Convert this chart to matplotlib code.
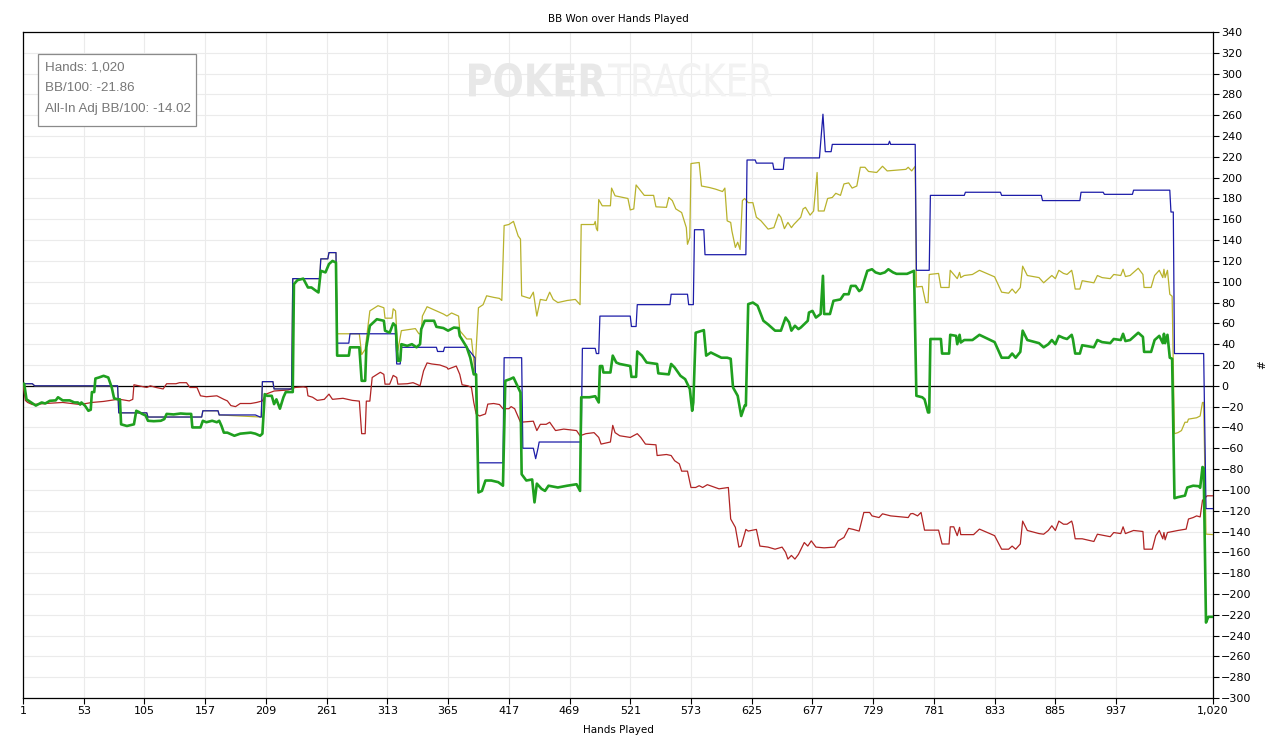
import matplotlib
matplotlib.use("Agg")
import matplotlib.pyplot as plt
from matplotlib.patches import Rectangle, PathPatch
from matplotlib.textpath import TextPath
from matplotlib.font_manager import FontProperties
from matplotlib.transforms import Affine2D, IdentityTransform

# ---------------- data (hand, value) ----------------
net_won = [(1,2),(9,2),(11,0),(82,0),(83,-26),(107,-26),(108,-30),(154,-30),(155,-24),(168,-24),(169,-28),(200,-28),(204,-30),(205,-30),(206,4),(215,4),(216,-3),(231,-3),(232,103),(255,103),(256,122),(262,122),(263,128),(269,128),(270,41),(280,41),(281,50),(320,50),(321,21),(324,21),(325,37),(355,37),(356,33),(361,33),(362,37),(381,37),(388,27),(391,-74),(412,-74),(413,27),(428,27),(429,-60),(438,-60),(440,-70),(442,-60),(443,-54),(479,-54),(480,36),(491,36),(492,31),(494,31),(495,67),(521,67),(522,57),(526,57),(527,78),(555,78),(556,88),(570,88),(571,78),(575,78),(576,150),(584,150),(585,126),(620,126),(621,217),(628,217),(629,214),(643,214),(644,208),(652,208),(653,219),(683,219),(686,261),(688,225),(693,225),(694,232),(742,232),(743,235),(744,232),(765,232),(766,111),(777,111),(778,183),(807,183),(808,186),(838,186),(839,183),(873,183),(874,178),(906,178),(907,186),(926,186),(927,184),(951,184),(952,188),(983,188),(984,167),(986,167),(987,31),(1012,31),(1014,-118),(1020,-118)]

showdown = [(1,2),(9,2),(11,0),(82,0),(83,-26),(107,-26),(108,-30),(154,-30),(155,-24),(168,-24),(169,-28),(205,-30),(206,4),(215,4),(216,-3),(231,-3),(232,103),(255,103),(256,122),(262,122),(263,128),(269,128),(270,50),(289,50),(291,30),(294,35),(298,72),(305,77),(310,75),(311,65),(317,65),(318,74),(320,72),(322,34),(325,53),(337,55),(340,50),(342,50),(343,67),(347,76),(351,74),(355,72),(361,69),(364,67),(368,70),(374,67),(375,53),(381,45),(385,45),(388,14),(391,75),(395,78),(398,86.5),(404,85),(409,84),(411,82),(413,154),(417,155),(421,158),(425,144),(427,141),(428,86.5),(435,84),(438,90),(441,67),(444,83),(449,82),(452,90),(455,83),(459,80),(467,82),(474,83),(478,78),(479,155),(490,155),(491,158),(492,151),(493,149),(494,179),(497,173),(504,173),(505,190),(508,182.6),(519,180),(521,169),(524,170),(526,193),(533,183),(541,183),(543,172),(552,171.5),(554,181),(557,178),(560,170),(565,166.5),(569,152),(570,136),(572,142.5),(573,213.6),(580,214.6),(582,192),(589,190.5),(594,189),(600,186.7),(602,190),(604,158.5),(607,157),(608,149),(611,133),(613,138),(615,131),(617,178),(619,180),(622,176),(626,176),(629,162),(633,158.5),(639,150.6),(644,152),(648,165),(650,162),(653,151),(656,157),(659,152),(661,155),(667,162),(669,170),(671,171.5),(675,164),(678,168),(681,205),(682,168),(687,168),(690,180),(694,181),(697,185),(701,183),(704,194),(708,195),(711,190),(715,192),(718,210),(722,210),(725,206),(732,205),(737,211),(741,206.5),(757,208),(759,210),(762,206.5),(765,211),(766,95),(771,95.5),(774,80),(776,80),(777,107),(785,108),(787,94.5),(794,94.5),(795,111),(801,103),(803,109),(804,104),(807,106),(814,107),(820,111),(833,104.7),(839,90),(845,89),(848,93),(851,89),(855,94.5),(857,115),(861,106),(871,104),(875,99),(879,103),(882,106),(885,103),(888,111),(892,108),(895,107),(899,111),(900,106),(902,93),(906,93),(908,101),(918,99),(921,106),(925,104),(932,103),(935,107),(941,106),(943,112),(945,105),(949,106),(952,109),(956,113),(960,107),(961,94.5),(967,94.5),(970,106),(974,111),(977,104),(978,112),(979,104),(981,111),(983,88),(985,86),(987,-46),(990,-45),(993,-43),(996,-35),(998,-35),(999,-32),(1006,-30.7),(1009,-29),(1011,-16),(1012,-16),(1014,-142.5),(1020,-143)]

non_showdown = [(1,1.6),(3,-14),(5,-16),(9,-18),(20,-17),(35,-16),(50,-18),(60,-16),(70,-15),(82,-13),(84,-13),(92,-14.5),(95,-13),(96,1),(107,-1.6),(110,0),(115,-1.6),(121,-3),(124,2),(132,2),(135,3),(141,3),(144,-1.6),(150,-1.6),(153,-9.6),(158,-10.5),(167,-9.6),(173,-13),(176,-14.5),(179,-19),(183,-20),(187,-17),(196,-17),(201,-16),(206,-14.5),(209,-8),(216,-5),(228,-4),(234,-1.6),(241,-1),(244,-1.6),(245,-9.6),(249,-11),(253,-14),(259,-13),(263,-8),(266,-13),(275,-12),(283,-14),(289,-14.7),(291,-46),(294,-46),(295,-14.7),(298,-14.7),(300,8),(307,13),(310,11),(311,1.6),(315,1.6),(318,10),(321,8),(322,1.6),(330,2),(335,3),(338,1.6),(341,0),(344,14.4),(347,22),(351,21),(358,20),(364,17.6),(365,16),(372,19),(375,11),(377,1),(382,0),(385,-1.6),(387,-16),(389,-27),(392,-29),(397,-27),(399,-17.6),(404,-17),(409,-18),(412,-22),(417,-22),(419,-20),(422,-22),(427,-35),(438,-34),(441,-43),(444,-37),(449,-37),(452,-35),(457,-43),(464,-41.6),(475,-43),(478,-48),(483,-46),(490,-45),(494,-49.6),(496,-56),(504,-54),(506,-38),(508,-45),(512,-48),(521,-49.6),(527,-46),(530,-49.6),(534,-56),(543,-56.7),(544,-67),(552,-66),(556,-67),(559,-72),(563,-75),(565,-82),(570,-82),(573,-97.7),(577,-97.7),(580,-96),(583,-97.7),(587,-95),(597,-99),(605,-97.7),(607,-128),(611,-136),(614,-155),(616,-154),(620,-138),(622,-139.6),(629,-138),(632,-154),(639,-155),(645,-157),(651,-155),(654,-160),(656,-166.5),(659,-163),(662,-166.5),(665,-162),(670,-150.6),(673,-154),(676,-149),(680,-155),(687,-155.7),(696,-155),(699,-149),(704,-145.7),(708,-137),(712,-138),(717,-139.6),(721,-121.7),(726,-121.7),(728,-125),(734,-126.6),(737,-123),(744,-125),(759,-126.6),(761,-123),(763,-122.7),(767,-125),(770,-121.7),(773,-138.7),(785,-138.7),(788,-152),(794,-152),(795,-135.5),(798,-135.5),(801,-144),(803,-136),(804,-143),(815,-143),(820,-137.7),(833,-144),(839,-157),(845,-157),(848,-154),(851,-157),(855,-152),(857,-130),(861,-139),(871,-142),(875,-142.6),(879,-139),(882,-134.5),(885,-139),(888,-130),(892,-133),(895,-133),(899,-130),(900,-134),(902,-147),(908,-147),(918,-149.6),(921,-142.6),(932,-145),(935,-141),(941,-142),(943,-135.5),(945,-142),(952,-139),(960,-140),(961,-157),(968,-157),(971,-144),(974,-139),(977,-147),(978,-141),(979,-148),(981,-141),(990,-139),(997,-137.7),(999,-128),(1003,-126.6),(1006,-125),(1009,-126),(1011,-110),(1012,-109),(1015,-105.7),(1020,-105.7)]

allin_adj = [(1,2),(2,2),(4,-13),(8,-16),(12,-19),(17,-16),(20,-17),(24,-14.4),(29,-14),(31,-11),(35,-14),(41,-14),(45,-16),(48,-16),(50,-18),(51,-16),(54,-19),(57,-24),(59,-23),(60,-6),(62,-6),(63,7),(66,8),(70,9.6),(74,8),(77,-1.6),(79,-12),(82,-13),(84,-13),(85,-37),(90,-38.6),(96,-37),(98,-24),(100,-25),(103,-27),(106,-28.5),(108,-33.6),(113,-34),(119,-33.6),(122,-32),(124,-27),(130,-27.5),(136,-26.6),(141,-27),(145,-27),(146,-40),(153,-40),(155,-33.6),(158,-35),(163,-33.6),(167,-35),(169,-33.6),(171,-38.6),(173,-45),(176,-45),(182,-48),(187,-46),(196,-45),(200,-46),(204,-48),(206,-46),(208,-8),(210,-9.6),(214,-9.6),(216,-17.6),(218,-13),(221,-22),(224,-11),(226,-6),(232,-6),(233,97.7),(236,101.5),(241,103),(245,94.5),(248,94.5),(251,92),(254,89.7),(256,110.5),(260,109),(263,117),(266,120),(269,118.5),(270,29),(280,29),(281,37),(289,37),(291,4.8),(294,4.8),(295,37),(298,57.7),(304,64),(310,62.5),(311,53),(315,51),(318,60),(320,57.7),(322,24),(324,24),(325,40),(330,38.4),(334,40),(338,37),(341,40),(342,54.5),(345,62.5),(353,62.5),(355,56.7),(361,55.5),(365,53),(370,56),(374,55.5),(375,48),(381,37),(384,27),(387,11),(389,11),(391,-102.5),(394,-101),(397,-91),(402,-91),(408,-92.6),(412,-96),(414,4.8),(418,6.4),(421,8),(425,-1.6),(427,-6.4),(428,-85),(432,-91),(437,-90),(439,-112),(441,-94),(445,-99),(448,-101),(451,-96),(459,-97.7),(467,-96),(475,-94.6),(478,-101),(479,-11),(486,-11),(491,-10),(494,-16),(495,19),(497,19),(498,12.8),(504,12.8),(506,29),(509,22.4),(512,21),(521,19),(522,8.6),(526,8.6),(527,33),(531,29),(535,22.4),(544,21),(545,12),(554,11),(556,21),(559,17.6),(564,9.6),(568,6.4),(572,-3),(574,-24),(575,-16),(577,51),(584,53.5),(586,29),(590,32),(599,27),(604,27),(607,26),(609,-1.6),(613,-9.6),(616,-29),(619,-19),(620,-19),(622,78.5),(626,80),(630,77),(635,62.5),(639,59),(645,53),(650,53),(654,65.6),(657,61),(659,53),(662,57.7),(665,54.5),(667,56),(673,62.5),(674,70.4),(677,72),(680,65.6),(684,69),(686,105.7),(687,69),(692,69),(695,81.7),(701,83),(704,88),(708,88),(710,96),(714,96),(717,91),(719,92.6),(724,110.5),(728,112),(731,109),(735,107.6),(739,109),(742,112),(746,109),(749,107.6),(758,107.6),(764,110.5),(766,-9.6),(771,-11),(773,-13),(776,-25.6),(777,-25.6),(778,45),(787,45),(788,31),(794,31),(795,49),(800,48),(801,40),(803,49),(804,41.6),(807,44),(814,44),(820,49),(833,42),(839,27),(845,27),(848,31),(851,27),(855,32.6),(857,53),(861,44),(871,41),(875,37),(879,40),(882,44),(885,40),(888,48),(892,46),(895,45),(899,49),(900,45),(902,31),(906,31),(908,39),(918,37),(921,44),(925,42),(932,41),(935,45),(941,44),(943,50),(945,43),(949,44),(952,47),(956,51),(960,47),(961,32.6),(967,32.6),(970,44),(974,48),(977,41),(978,50),(979,41),(981,49),(983,27),(985,26),(987,-108),(990,-107),(996,-105.5),(998,-97.7),(1003,-96),(1008,-96.5),(1009,-98),(1011,-78),(1012,-79),(1014,-227.5),(1016,-222),(1020,-222)]

x_ticks = [1, 53, 105, 157, 209, 261, 313, 365, 417, 469, 521, 573, 625, 677, 729, 781, 833, 885, 937, 1020]
x_tick_labels = ["1", "53", "105", "157", "209", "261", "313", "365", "417", "469", "521", "573", "625", "677", "729", "781", "833", "885", "937", "1,020"]
y_ticks = list(range(-300, 341, 20))
stats_lines = ["Hands: 1,020", "BB/100: -21.86", "All-In Adj BB/100: -14.02"]

# ---------------- figure ----------------
W, H = 1276, 738
fig = plt.figure(figsize=(W / 100, H / 100), dpi=100)
ax = fig.add_axes([23 / W, 1 - 698 / H, 1190 / W, 666 / H])

def xy(series):
    return [p[0] for p in series], [p[1] for p in series]

ax.plot(*xy(showdown), color="#b8b22c", lw=0.9, zorder=3)
ax.plot(*xy(non_showdown), color="#b02424", lw=0.9, zorder=4)
ax.plot(*xy(net_won), color="#1c1ca8", lw=0.9, zorder=5)
ax.plot(*xy(allin_adj), color="#1fa01f", lw=1.9, zorder=6)
ax.axhline(0, color="black", lw=0.9, zorder=2)

ax.set_xlim(1, 1020)
ax.set_ylim(-300, 340)
ax.set_xticks(x_ticks)
ax.set_xticklabels(x_tick_labels)
ax.set_yticks(y_ticks)
ax.yaxis.tick_right()
ax.yaxis.set_label_position("right")
ax.grid(True, color="#ebebeb", lw=0.8, zorder=0)
ax.set_axisbelow(True)
ax.tick_params(axis="both", labelsize=8, length=4, width=0.8, color="black", pad=2)
for s in ax.spines.values():
    s.set_color("black")
    s.set_linewidth(0.9)

ax.set_title("BB Won over Hands Played", fontsize=7.5, pad=7)
ax.set_xlabel("Hands Played", fontsize=7.5, labelpad=6)
ax.set_ylabel("#", fontsize=7.5)
ax.yaxis.set_label_coords((1257 - 23) / 1190, 0.5)

# watermark drawn as scaled text paths in pixel space
def watermark(text, x0, x1, ytop, ybot, color, weight):
    tp = TextPath((0, 0), text, size=40, prop=FontProperties(family="DejaVu Sans", weight=weight))
    ext = tp.get_extents()
    sx = (x1 - x0) / ext.width
    sy = (ybot - ytop) / ext.height
    tr = Affine2D().translate(-ext.x0, -ext.y0).scale(sx, sy).translate(x0, H - ybot)
    patch = PathPatch(tr.transform_path(tp), facecolor=color, edgecolor="none",
                      transform=IdentityTransform(), zorder=1)
    fig.add_artist(patch)

watermark("POKER", 469, 605, 63, 97, "#e8e8e8", "bold")
watermark("TRACKER", 608, 772, 63, 97, "#f2f2f2", "normal")

# stats box
fig.add_artist(Rectangle((38 / W, 1 - 126 / H), 158 / W, 72 / H, transform=fig.transFigure,
                         facecolor="white", edgecolor="#8a8a8a", lw=0.9, zorder=10))
for i, t in enumerate(stats_lines):
    fig.text(45 / W, 1 - (67 + 21 * i) / H, t, fontsize=9.6, color="#777777",
             va="center", ha="left", family="Liberation Sans", zorder=11)

fig.savefig("out.png", dpi=100)
